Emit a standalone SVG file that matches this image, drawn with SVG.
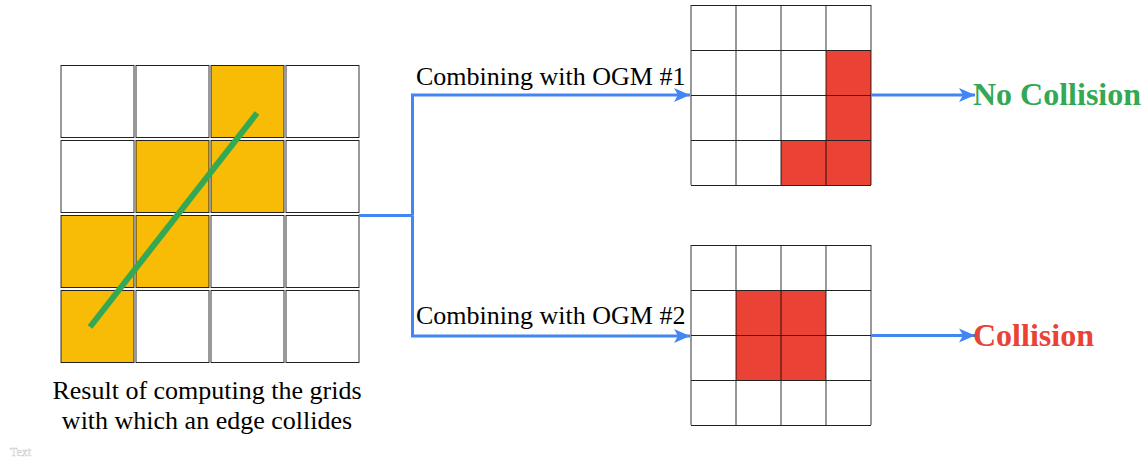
<svg xmlns="http://www.w3.org/2000/svg" width="1146" height="463" viewBox="0 0 1146 463">
  <style>
    text { font-family: "Liberation Serif", "DejaVu Serif", serif; }
    .lbl { font-size: 26px; font-weight: normal; fill: #000; }
    .res { font-size: 32px; font-weight: bold; }
    .vl { stroke: #000; stroke-opacity: 0.4; stroke-width: 2; fill: none; }
    .hl { stroke: #222; stroke-width: 1; fill: none; }
    .cellw { fill: #fff; }
    .celly { fill: #F9BC06; }
    .cellr { fill: #EA4335; }
    .conn { stroke: #4285F4; stroke-width: 3; fill: none; }
  </style>
  <defs>
    <marker id="arr" markerUnits="userSpaceOnUse" markerWidth="18" markerHeight="16" refX="16" refY="8" orient="auto">
      <path d="M0,1 L16,8 L0,15 L4,8 Z" fill="#4285F4"/>
    </marker>
  </defs>
  <rect width="1146" height="463" fill="#fff"/>

  <!-- edge footprint grid: each cell drawn on its own -->
  <g id="edge-grid">
    <g>
      <rect class="cellw" x="61" y="65" width="73" height="73"/>
      <rect class="cellw" x="136" y="65" width="73" height="73"/>
      <rect class="celly" x="211" y="65" width="73" height="73"/>
      <rect class="cellw" x="286" y="65" width="73" height="73"/>
      <rect class="cellw" x="61" y="140" width="73" height="73"/>
      <rect class="celly" x="136" y="140" width="73" height="73"/>
      <rect class="celly" x="211" y="140" width="73" height="73"/>
      <rect class="cellw" x="286" y="140" width="73" height="73"/>
      <rect class="celly" x="61" y="215" width="73" height="73"/>
      <rect class="celly" x="136" y="215" width="73" height="73"/>
      <rect class="cellw" x="211" y="215" width="73" height="73"/>
      <rect class="cellw" x="286" y="215" width="73" height="73"/>
      <rect class="celly" x="61" y="290" width="73" height="73"/>
      <rect class="cellw" x="136" y="290" width="73" height="73"/>
      <rect class="cellw" x="211" y="290" width="73" height="73"/>
      <rect class="cellw" x="286" y="290" width="73" height="73"/>
    </g>
    <!-- cell borders: grey sides, dark top/bottom -->
    <path class="vl" d="M61,65V138 M134,65V138 M136,65V138 M209,65V138 M211,65V138 M284,65V138 M286,65V138 M359,65V138
                        M61,140V213 M134,140V213 M136,140V213 M209,140V213 M211,140V213 M284,140V213 M286,140V213 M359,140V213
                        M61,215V288 M134,215V288 M136,215V288 M209,215V288 M211,215V288 M284,215V288 M286,215V288 M359,215V288
                        M61,290V363 M134,290V363 M136,290V363 M209,290V363 M211,290V363 M284,290V363 M286,290V363 M359,290V363"/>
    <path class="hl" d="M61,65.5H134 M136,65.5H209 M211,65.5H284 M286,65.5H359
                        M61,137.5H134 M136,137.5H209 M211,137.5H284 M286,137.5H359
                        M61,140.5H134 M136,140.5H209 M211,140.5H284 M286,140.5H359
                        M61,212.5H134 M136,212.5H209 M211,212.5H284 M286,212.5H359
                        M61,215.5H134 M136,215.5H209 M211,215.5H284 M286,215.5H359
                        M61,287.5H134 M136,287.5H209 M211,287.5H284 M286,287.5H359
                        M61,290.5H134 M136,290.5H209 M211,290.5H284 M286,290.5H359
                        M61,362.5H134 M136,362.5H209 M211,362.5H284 M286,362.5H359"/>
    <line x1="90" y1="327" x2="257" y2="113" stroke="#34A853" stroke-width="6"/>
  </g>

  <g id="edge-caption">
    <text class="lbl" x="207" y="399" text-anchor="middle">Result of computing the grids</text>
    <text class="lbl" x="207" y="429" text-anchor="middle">with which an edge collides</text>
  </g>

  <!-- occupancy grid map #1 -->
  <g id="ogm-1">
    <rect class="cellw" x="691" y="5" width="180" height="180"/>
    <rect class="cellr" x="826" y="50" width="45" height="90"/>
    <rect class="cellr" x="781" y="140" width="90" height="45"/>
    <path class="vl" d="M691,5V185 M736,5V185 M781,5V185 M826,5V185 M871,5V185"/>
    <path class="hl" d="M691,5.5H871 M691,50.5H871 M691,95.5H871 M691,140.5H871 M691,185.5H871"/>
  </g>

  <!-- occupancy grid map #2 -->
  <g id="ogm-2">
    <rect class="cellw" x="691" y="245" width="180" height="180"/>
    <rect class="cellr" x="736" y="290" width="90" height="90"/>
    <path class="vl" d="M691,245V425 M736,245V425 M781,245V425 M826,245V425 M871,245V425"/>
    <path class="hl" d="M691,245.5H871 M691,290.5H871 M691,335.5H871 M691,380.5H871 M691,425.5H871"/>
  </g>

  <g id="connectors">
    <path class="conn" d="M359,215.5H412.5"/>
    <path class="conn" d="M412.5,215.5V95H690" marker-end="url(#arr)"/>
    <path class="conn" d="M412.5,215.5V336H690" marker-end="url(#arr)"/>
    <path class="conn" d="M871,95H975" marker-end="url(#arr)"/>
    <path class="conn" d="M871,335.5H975" marker-end="url(#arr)"/>
  </g>

  <g id="connector-labels">
    <text class="lbl" x="416" y="85">Combining with OGM #1</text>
    <text class="lbl" x="416" y="324">Combining with OGM #2</text>
  </g>

  <g id="result-no-collision">
    <text class="res" x="973" y="105" fill="#34A853">No Collision</text>
  </g>
  <g id="result-collision">
    <text class="res" x="973" y="346" fill="#EA4335">Collision</text>
  </g>

  <text x="10" y="456" font-size="12" fill="#fff" stroke="#cfcfcf" stroke-width="0.5">Text</text>
</svg>
